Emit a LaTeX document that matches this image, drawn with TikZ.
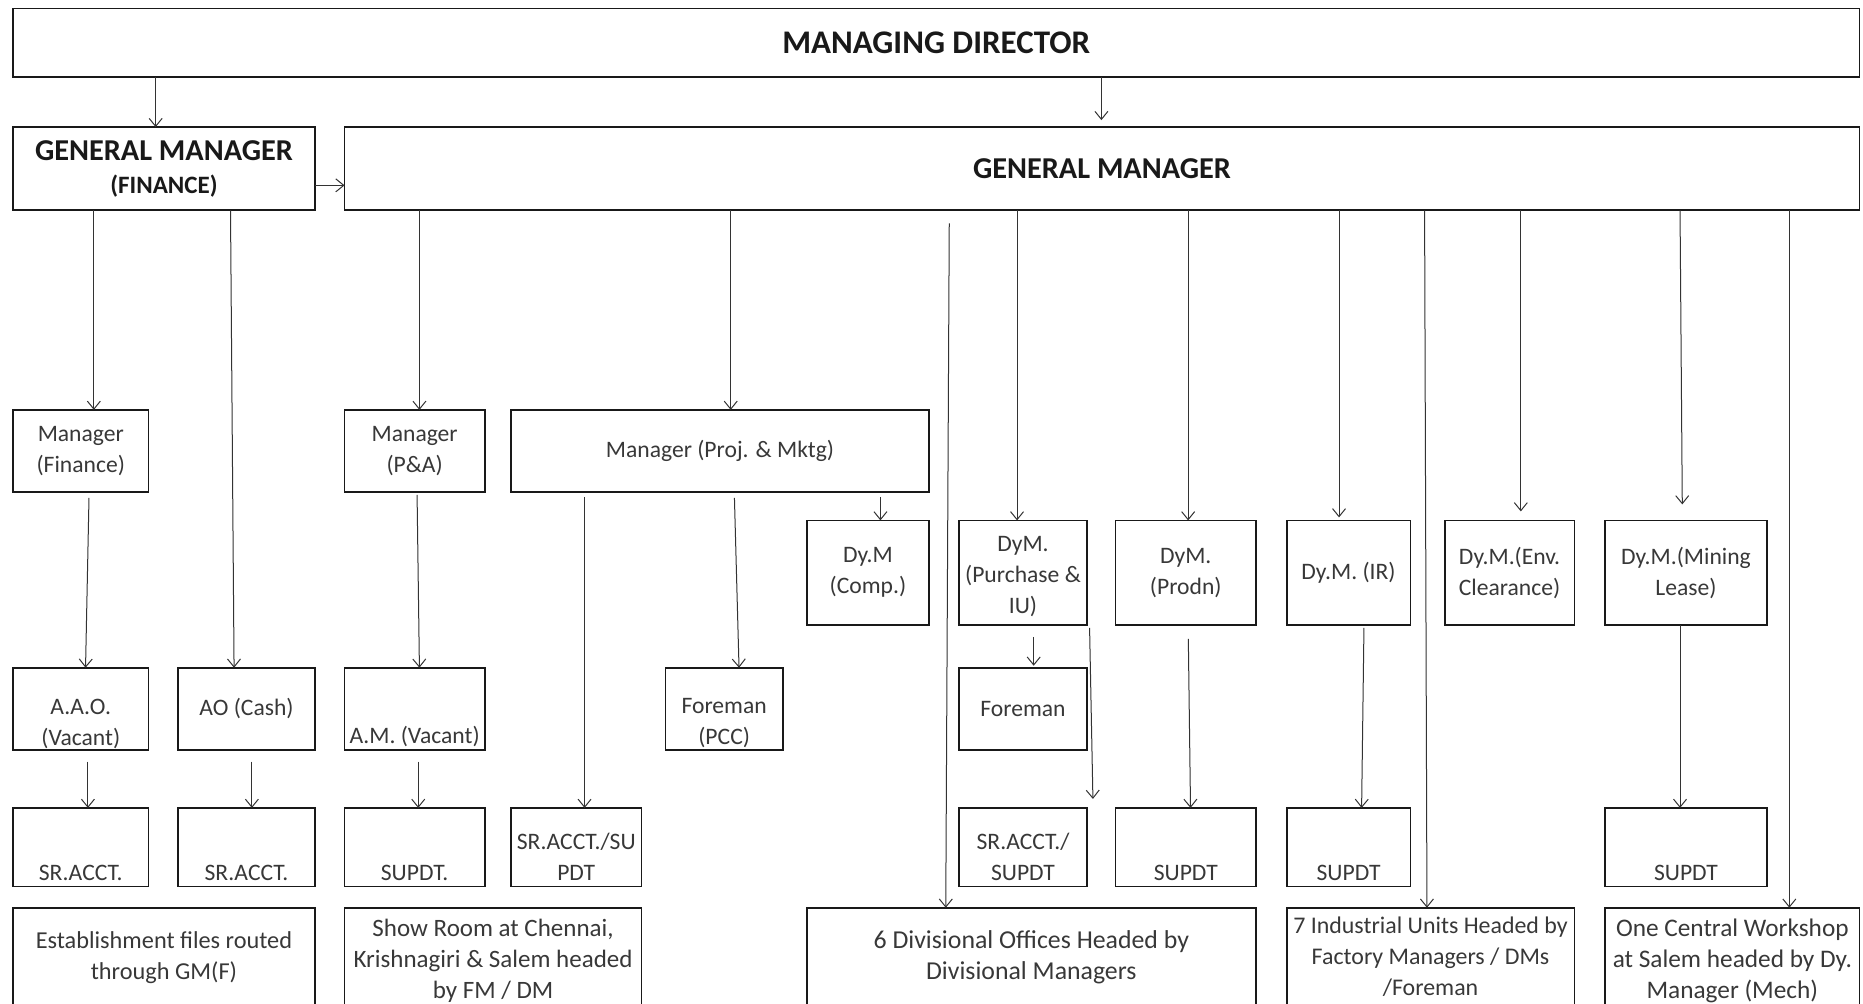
\documentclass[tikz,border=0pt]{standalone}
\usepackage{fontspec}
\setmainfont{Carlito}
\usetikzlibrary{arrows.meta}

% invisible strut that pushes a box text downwards
\newcommand{\topgap}[1]{\rule{0pt}{#1}}

\begin{document}
\begin{tikzpicture}[
    x=1.188pt, y=-1.188pt,
    box/.style={draw=black!90, line width=1.6pt, anchor=north west, outer sep=0pt, inner sep=0pt,
      align=center, text=black!78, font=\fontsize{23.6}{31}\selectfont},
    boxsize/.style 2 args={minimum width=#1*1.188pt, minimum height=#2*1.188pt},
    fs/.style={font=\fontsize{#1}{31}\selectfont},
    head/.style={font=\fontsize{#1}{33}\selectfont\bfseries, text=black!90},
    arrow/.style={-{Straight Barb[length=8pt,width=13pt]}, line width=1pt, black!80}
  ]
  \useasboundingbox (0,0) rectangle (1568,845);
  \clip (0,0) rectangle (1568,845);

  % Top level
  \node[box, boxsize={1554}{58}, head=33] (md) at (11,7) {MANAGING DIRECTOR};
  \node[box, boxsize={254}{70}, head=30.3] (gmf) at (11,107)
    {GENERAL MANAGER\\{\fontsize{25}{33}\selectfont (FINANCE)}};
  \node[box, boxsize={1275}{70}, head=30.3] (gm) at (290,107) {GENERAL MANAGER};

  % Managers
  \node[box, boxsize={114}{69}] (mgrfin) at (11,345) {Manager\\(Finance)};
  \node[box, boxsize={118}{69}] (mgrpa) at (290,345) {Manager\\(P\&A)};
  \node[box, boxsize={352}{69}] (mgrpm) at (430,345) {Manager (Proj. \& Mktg)};

  % Deputy managers
  \node[box, boxsize={103}{88}] (dycomp) at (679,438) {Dy.M\\(Comp.)};
  \node[box, boxsize={108}{88}] (dypur) at (807,438) {\topgap{22pt}DyM.\\(Purchase \&\\IU)};
  \node[box, boxsize={118}{88}] (dyprod) at (939,438) {DyM.\\(Prodn)};
  \node[box, boxsize={104}{88}] (dyir) at (1083,438) {Dy.M. (IR)};
  \node[box, boxsize={109}{88}] (dyenv) at (1216,438) {Dy.M.(Env.\\Clearance)};
  \node[box, boxsize={136}{88}] (dymin) at (1351,438) {Dy.M.(Mining\\Lease)};

  % Officers
  \node[box, boxsize={114}{69}] (aao) at (11,562) {\topgap{45pt}A.A.O.\\(Vacant)};
  \node[box, boxsize={115}{69}] (aocash) at (150,562) {AO (Cash)};
  \node[box, boxsize={118}{69}] (am) at (290,562) {\topgap{72pt}A.M. (Vacant)};
  \node[box, boxsize={99}{69}] (forepcc) at (560,562) {\topgap{43pt}Foreman\\(PCC)};
  \node[box, boxsize={108}{69}] (fore) at (807,562) {Foreman};

  % Staff
  \node[box, boxsize={114}{66}] (sr1) at (11,680) {\topgap{66pt}SR.ACCT.};
  \node[box, boxsize={115}{66}] (sr2) at (150,680) {\topgap{66pt}SR.ACCT.};
  \node[box, boxsize={118}{66}] (supdt1) at (290,680) {\topgap{66pt}SUPDT.};
  \node[box, boxsize={110}{66}] (srsu1) at (430,680) {\topgap{36pt}SR.ACCT./SU\\PDT};
  \node[box, boxsize={108}{66}] (srsu2) at (807,680) {\topgap{36pt}SR.ACCT./\\SUPDT};
  \node[box, boxsize={118}{66}] (supdt2) at (939,680) {\topgap{66pt}SUPDT};
  \node[box, boxsize={104}{66}] (supdt3) at (1083,680) {\topgap{66pt}SUPDT};
  \node[box, boxsize={136}{66}] (supdt4) at (1351,680) {\topgap{66pt}SUPDT};

  % Offices and units
  \node[box, boxsize={254}{84}, fs=24.3] (estab) at (11,764) {Establishment files routed\\through GM(F)};
  \node[box, boxsize={250}{90}, fs=25] (showroom) at (290,764) {Show Room at Chennai,\\Krishnagiri \& Salem headed\\by FM / DM};
  \node[box, boxsize={378}{84}, fs=25.8] (divoff) at (679,764) {6 Divisional Offices Headed by\\Divisional Managers};
  \node[box, boxsize={242}{82}, fs=23.9] (indunits) at (1083,764) {7 Industrial Units Headed by\\Factory Managers / DMs\\/Foreman};
  \node[box, boxsize={214}{90}, fs=25.3] (workshop) at (1351,764) {One Central Workshop\\at Salem headed by Dy.\\Manager (Mech)};

  % Arrows
  \draw[arrow] (md.south -| 131,0) -- (gmf.north -| 131,0);
  \draw[arrow, shorten >=7pt] (md.south -| 927,0) -- (gm.north -| 927,0);
  \draw[arrow] (gmf.east |- 0,156) -- (gm.west |- 0,156);

  \draw[arrow] (gmf.south -| 79,0) -- (mgrfin.north -| 79,0);
  \draw[arrow] (gmf.south -| 194,0) -- (aocash.north -| 197,0);
  \draw[arrow] (gm.south -| 353,0) -- (mgrpa.north -| 353,0);
  \draw[arrow] (gm.south -| 615,0) -- (mgrpm.north -| 615,0);
  \draw[arrow, shorten <=13pt] (gm.south -| 799,0) -- (divoff.north -| 796,0);
  \draw[arrow] (gm.south -| 856,0) -- (dypur.north -| 856,0);
  \draw[arrow] (gm.south -| 1000,0) -- (dyprod.north -| 1000,0);
  \draw[arrow, shorten >=3pt] (gm.south -| 1127,0) -- (dyir.north -| 1127,0);
  \draw[arrow] (gm.south -| 1199,0) -- (indunits.north -| 1201,0);
  \draw[arrow, shorten >=9pt] (gm.south -| 1280,0) -- (dyenv.north -| 1280,0);
  \draw[arrow, shorten >=16pt] (gm.south -| 1414,0) -- (dymin.north -| 1416,0);
  \draw[arrow] (gm.south -| 1506,0) -- (workshop.north -| 1506,0);

  \draw[arrow, shorten <=6pt] (mgrfin.south -| 75,0) -- (aao.north -| 72,0);
  \draw[arrow, shorten <=3pt] (mgrpa.south -| 351,0) -- (am.north -| 353,0);
  \draw[arrow, shorten <=6pt] (mgrpm.south -| 618,0) -- (forepcc.north -| 622,0);
  \draw[arrow, shorten <=5pt] (mgrpm.south -| 492,0) -- (srsu1.north -| 492,0);
  \draw[arrow, shorten <=5pt] (mgrpm.south -| 741,0) -- (dycomp.north -| 741,0);

  \draw[arrow, shorten <=12pt, shorten >=2pt] (dypur.south -| 870,0) -- (fore.north -| 870,0);
  \draw[arrow, shorten <=3pt, shorten >=9pt] (dypur.south -| 917,0) -- (srsu2.north -| 920,0);
  \draw[arrow, shorten <=14pt] (dyprod.south -| 1000,0) -- (supdt2.north -| 1002,0);
  \draw[arrow, shorten <=3pt] (dyir.south -| 1148,0) -- (supdt3.north -| 1146,0);
  \draw[arrow] (dymin.south -| 1414,0) -- (supdt4.north -| 1414,0);

  \draw[arrow, shorten <=12pt] (aao.south -| 74,0) -- (sr1.north -| 74,0);
  \draw[arrow, shorten <=12pt] (aocash.south -| 212,0) -- (sr2.north -| 212,0);
  \draw[arrow, shorten <=12pt] (am.south -| 352,0) -- (supdt1.north -| 352,0);
\end{tikzpicture}
\end{document}
